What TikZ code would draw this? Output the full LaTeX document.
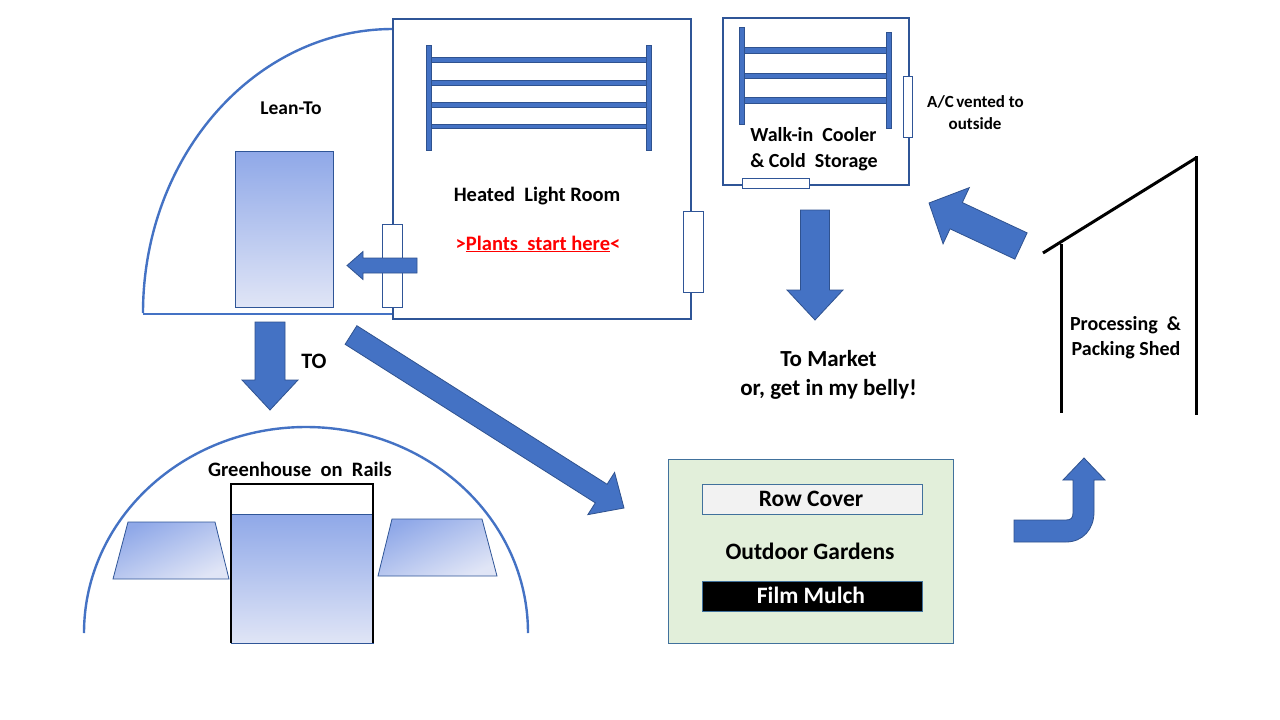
\documentclass[tikz,border=0pt]{standalone}
\usepackage{fontspec}
\setmainfont{Carlito}
\usetikzlibrary{calc}
\definecolor{accent}{RGB}{68,114,196}
\definecolor{darkb}{RGB}{47,85,151}
\definecolor{edgeb}{RGB}{47,82,143}
\definecolor{gtop}{RGB}{143,168,232}
\definecolor{gbot}{RGB}{224,229,246}
\definecolor{garden}{RGB}{226,239,218}
\definecolor{rowc}{RGB}{242,242,242}
\definecolor{gedge}{RGB}{65,113,156}
\newcommand\setfs[1]{\fontsize{#1}{#1}\selectfont}
\newcommand\blockarrow[5]{%
  \path ($(#2)!#5!(#1)$) coordinate (ba-n);
  \filldraw[arrowfill] ($(#1)!#3!90:(#2)$) -- ($(ba-n)!#3!90:(#2)$) -- ($(ba-n)!#4!90:(#2)$) -- (#2)
    -- ($(ba-n)!#4!-90:(#2)$) -- ($(ba-n)!#3!-90:(#2)$) -- ($(#1)!#3!-90:(#2)$) -- cycle;}
\tikzset{
  room/.style={draw=darkb, line width=2.5pt},
  rackbar/.style={fill=accent, draw=edgeb, line width=0.6pt},
  door/.style={fill=white, draw=darkb, line width=0.9pt},
  lbl/.style={anchor=base, inner sep=0pt, font=\bfseries},
  glass/.style={top color=gtop, bottom color=gbot, draw=darkb, line width=0.8pt},
  arrowfill/.style={fill=accent, draw=edgeb, line width=0.8pt, line join=miter},
  hoop/.style={draw=accent, line width=2.4pt},
}
\begin{document}
\begin{tikzpicture}[x=1pt,y=-1pt]
\useasboundingbox[fill=white] (0,0) rectangle (1280,720);

% ---- Lean-To ----
\draw[hoop] (143,313) arc[start angle=180, end angle=90, x radius=250pt, y radius=284pt];
\draw[accent, line width=1.2pt] (143,314) -- (393,314);
\draw[glass] (235,151) rectangle (333,307);
\node[lbl] (leanto) at (291,114) {\setfs{19.5}Lean-To};

% ---- Heated Light Room ----
\draw[room, fill=white] (393,19) rectangle (691,319);
\draw[rackbar] (430,57.5) rectangle (650,62);
\draw[rackbar] (430,80.5) rectangle (650,85);
\draw[rackbar] (430,102.5) rectangle (648,107);
\draw[rackbar] (430,124) rectangle (650,128.5);
\draw[rackbar] (426,45) rectangle (431,150);
\draw[rackbar] (646,45) rectangle (651,150);
\draw[door] (382,224) rectangle (402,307);
\draw[door] (683,211) rectangle (703,292);
\node[lbl] (heated) at (537,201) {\setfs{20.5}Heated\ \ Light Room};
\node[lbl, text=red] (plants) at (538,250) {\setfs{20.5}>\underline{Plants\ \ start here}<};

% ---- Walk-in Cooler ----
\draw[room, fill=white] (723,18) rectangle (909,185);
\draw[rackbar] (743,47.5) rectangle (887,53);
\draw[rackbar] (743,73) rectangle (887,78.5);
\draw[rackbar] (741,97.5) rectangle (887,103);
\draw[rackbar] (739,27) rectangle (744,124);
\draw[rackbar] (886.5,32) rectangle (891.5,128);
\draw[door] (903,76) rectangle (912,137);
\draw[door] (742,178) rectangle (809,188);
\node[lbl] (cooler1) at (813.5,141) {\setfs{20}Walk-in\ \ Cooler};
\node[lbl] (cooler2) at (814,167) {\setfs{20}\& Cold\ \ Storage};
\node[lbl] (ac1) at (975.5,107) {\setfs{17}A/C\kern2.5pt vented to};
\node[lbl] (ac2) at (975,129) {\setfs{17}outside};

% ---- Market ----
\node[lbl] (market1) at (828.5,366) {\setfs{23}To Market};
\node[lbl] (market2) at (828.5,395) {\setfs{23}or, get in my belly!};

% ---- Processing & Packing Shed ----
\draw[black, line width=3pt] (1043,253) -- (1196,158);
\draw[black, line width=3pt] (1061.5,244) -- (1061.5,413);
\draw[black, line width=3pt] (1196,156) -- (1196,415);
\node[lbl] (shed1) at (1125.5,330) {\setfs{20}Processing\ \ \&};
\node[lbl] (shed2) at (1126,355) {\setfs{20}Packing Shed};

% ---- Greenhouse on Rails ----
\draw[hoop] (84,633) arc[start angle=180, end angle=0, x radius=222pt, y radius=206pt];
\draw[top color=gtop, bottom color=gbot, shading angle=25, draw=darkb, line width=0.8pt]
  (128,522) -- (215,522) -- (229,579) -- (113,579) -- cycle;
\draw[top color=gtop, bottom color=gbot, shading angle=25, draw=darkb, line width=0.8pt]
  (392,519) -- (482,519) -- (497,576) -- (378,576) -- cycle;
\draw[fill=white, draw=none] (231,484) rectangle (373,643);
\draw[glass] (231,514) rectangle (373,643);
\draw[black, line width=2pt] (231,643) -- (231,484) -- (373,484) -- (373,643);
\node[lbl] (gh) at (300,476) {\setfs{20.5}Greenhouse\ \ on\ \ Rails};
\node[lbl] (to) at (314,368) {\setfs{22}TO};

% ---- Outdoor Gardens ----
\draw[fill=garden, draw=gedge, line width=1pt] (668,459) rectangle (953,643);
\draw[fill=rowc, draw=gedge, line width=1pt] (702,484) rectangle (922,514);
\draw[fill=black, draw=gedge, line width=1pt] (702,581) rectangle (922,611);
\node[lbl] (rowcover) at (811,506) {\setfs{23.5}Row Cover};
\node[lbl] (outdoor) at (810,559) {\setfs{23.5}Outdoor Gardens};
\node[lbl, text=white] (film) at (811,603) {\setfs{23.5}Film Mulch};

% ---- Block arrows ----
\coordinate (a1s) at (417,265.5); \coordinate (a1e) at (347,265.5);
\blockarrow{a1s}{a1e}{7.5pt}{14pt}{16pt}
\coordinate (a2s) at (270,322); \coordinate (a2e) at (270,410);
\blockarrow{a2s}{a2e}{15pt}{28pt}{30pt}
\coordinate (a3s) at (351,335); \coordinate (a3e) at (624,508);
\blockarrow{a3s}{a3e}{11pt}{25pt}{27pt}
\coordinate (a4s) at (815,210); \coordinate (a4e) at (815,320);
\blockarrow{a4s}{a4e}{14.5pt}{28pt}{30pt}
\coordinate (a5s) at (1021,246); \coordinate (a5e) at (929,203);
\blockarrow{a5s}{a5e}{14.5pt}{31pt}{30pt}
% U-turn arrow
\coordinate (a6s) at (1014,531); \coordinate (a6e) at (1084,458);
\filldraw[arrowfill] (a6s) ++(0,-11) -- (1066,520) .. controls (1071,520) and (1073,518) .. (1073,513)
  -- (1073,480) -- (1063,480) -- (a6e) -- (1105,480) -- (1094,480) -- (1094,512)
  .. controls (1094,529) and (1083,542) .. (1066,542) -- (1014,542) -- cycle;
\end{tikzpicture}
\end{document}
